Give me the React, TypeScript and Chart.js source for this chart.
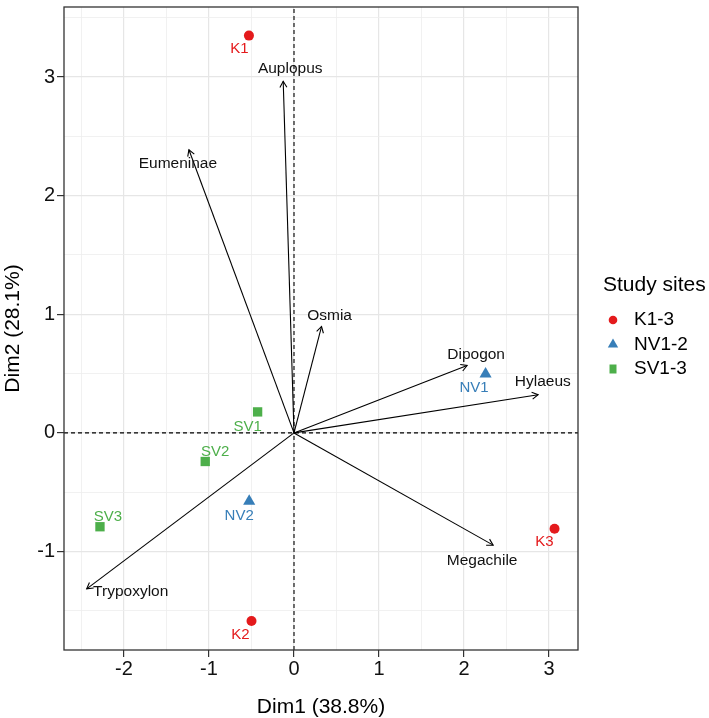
import React, { useEffect, useRef } from "react";
import { Chart, registerables } from "chart.js";

Chart.register(...registerables);

// ---- data ----
const siteNames = ["K1", "K2", "K3", "NV1", "NV2", "SV1", "SV2", "SV3"];
const siteGroup = [0, 0, 0, 1, 1, 2, 2, 2];
const siteDim1 = [-0.53, -0.5, 3.064, 2.253, -0.527, -0.428, -1.044, -2.282];
const siteDim2 = [3.349, -1.586, -0.808, 0.497, -0.577, 0.177, -0.241, -0.791];
const groupLabels = ["K1-3", "NV1-2", "SV1-3"];

const varNames = ["Auplopus", "Eumeninae", "Osmia", "Dipogon", "Hylaeus", "Megachile", "Trypoxylon"];
const varDim1 = [-0.127, -1.236, 0.324, 2.036, 2.871, 2.342, -2.438];
const varDim2 = [2.964, 2.387, 0.897, 0.568, 0.322, -0.946, -1.315];

const xGridValues = [-2.5, -2, -1.5, -1, -0.5, 0, 0.5, 1, 1.5, 2, 2.5, 3];
const yGridValues = [-1.5, -1, -0.5, 0, 0.5, 1, 1.5, 2, 2.5, 3, 3.5];
const xRange = [-2.705, 3.34];
const yRange = [-1.83, 3.59];

const xTitle = "Dim1 (38.8%)";
const yTitle = "Dim2 (28.1%)";
const legendTitle = "Study sites";

// ---- styles ----
const FONT = "'Liberation Sans', Arial, sans-serif";
const groupColors = ["#E41A1C", "#377EB8", "#4DAF4A"];
const groupShapes = ["circle", "triangle", "rect"];
const groupRadius = [5, 7, 6.6];
// label offsets in pixels (ggrepel placement)
const siteLabelOffsets = [
  [-9.5, 13], [-11, 14.3], [-10, 13], [-11.5, 13.5], [-10, 14.5], [-10, 15], [10, -10], [8, -10],
];
const varLabelOffsets = [
  [7, -13], [-11, 14], [8, -11], [9, -11], [4.7, -12.7], [-11, 16], [44, 3],
];

const isMajor = (v: number) => Math.abs(v - Math.round(v)) < 1e-9;

export default function App() {
  const ref = useRef<HTMLCanvasElement | null>(null);

  useEffect(() => {
    const canvas = ref.current;
    if (!canvas) return;

    const datasets: any[] = [];
    groupLabels.forEach((label, g) => {
      const data = siteNames
        .map((name, i) => ({ x: siteDim1[i], y: siteDim2[i], name, g: siteGroup[i] }))
        .filter((d) => d.g === g);
      datasets.push({
        label,
        data,
        pointStyle: groupShapes[g],
        pointRadius: groupRadius[g],
        backgroundColor: groupColors[g],
        borderColor: groupColors[g],
        borderWidth: 0,
        showLine: false,
      });
    });
    // dashed reference lines
    datasets.push({
      label: "_h",
      data: [{ x: xRange[0], y: 0 }, { x: xRange[1], y: 0 }],
      showLine: true,
      pointRadius: 0,
      borderColor: "#000",
      borderWidth: 1.1,
      borderDash: [4, 3],
    });
    datasets.push({
      label: "_v",
      data: [{ x: 0, y: yRange[0] }, { x: 0, y: yRange[1] }],
      showLine: true,
      pointRadius: 0,
      borderColor: "#000",
      borderWidth: 1.1,
      borderDash: [4, 3],
    });
    // variable arrows
    varNames.forEach((n, i) => {
      datasets.push({
        label: "_arrow_" + n,
        data: [{ x: 0, y: 0 }, { x: varDim1[i], y: varDim2[i] }],
        showLine: true,
        pointRadius: 0,
        borderColor: "#000",
        borderWidth: 1.1,
      });
    });

    const overlay = {
      id: "overlay",
      afterDatasetsDraw(chart: any) {
        const ctx = chart.ctx as CanvasRenderingContext2D;
        const xs = chart.scales.x;
        const ys = chart.scales.y;
        const ox = xs.getPixelForValue(0);
        const oy = ys.getPixelForValue(0);
        ctx.save();
        // arrowheads
        ctx.strokeStyle = "#000";
        ctx.lineWidth = 1.1;
        varNames.forEach((_, i) => {
          const tx = xs.getPixelForValue(varDim1[i]);
          const ty = ys.getPixelForValue(varDim2[i]);
          const ang = Math.atan2(ty - oy, tx - ox);
          const L = 7;
          const a = Math.PI / 6;
          ctx.beginPath();
          ctx.moveTo(tx - L * Math.cos(ang - a), ty - L * Math.sin(ang - a));
          ctx.lineTo(tx, ty);
          ctx.lineTo(tx - L * Math.cos(ang + a), ty - L * Math.sin(ang + a));
          ctx.stroke();
        });
        ctx.textAlign = "center";
        ctx.textBaseline = "middle";
        // variable labels
        ctx.font = `15.5px ${FONT}`;
        ctx.fillStyle = "#111";
        varNames.forEach((n, i) => {
          const tx = xs.getPixelForValue(varDim1[i]);
          const ty = ys.getPixelForValue(varDim2[i]);
          ctx.fillText(n, tx + varLabelOffsets[i][0], ty + varLabelOffsets[i][1]);
        });
        // site labels
        ctx.font = `15px ${FONT}`;
        siteNames.forEach((n, i) => {
          const px = xs.getPixelForValue(siteDim1[i]);
          const py = ys.getPixelForValue(siteDim2[i]);
          ctx.fillStyle = groupColors[siteGroup[i]];
          ctx.fillText(n, px + siteLabelOffsets[i][0], py + siteLabelOffsets[i][1]);
        });
        // panel border
        const ca = chart.chartArea;
        ctx.strokeStyle = "#333";
        ctx.lineWidth = 1.3;
        ctx.strokeRect(ca.left, ca.top, ca.right - ca.left, ca.bottom - ca.top);

        // legend
        const lx = ca.right + 25;
        ctx.textAlign = "left";
        ctx.fillStyle = "#000";
        ctx.font = `21px ${FONT}`;
        ctx.fillText(legendTitle, lx, 285);
        ctx.font = `19px ${FONT}`;
        groupLabels.forEach((lab, g) => {
          const cy = 320 + g * 24.5;
          const cx = lx + 10;
          ctx.fillStyle = groupColors[g];
          ctx.beginPath();
          if (groupShapes[g] === "circle") {
            ctx.arc(cx, cy, 4.3, 0, Math.PI * 2);
          } else if (groupShapes[g] === "triangle") {
            const r = 6;
            ctx.moveTo(cx, cy - r);
            ctx.lineTo(cx + r * Math.sin((2 * Math.PI) / 3), cy - r * Math.cos((2 * Math.PI) / 3));
            ctx.lineTo(cx + r * Math.sin((4 * Math.PI) / 3), cy - r * Math.cos((4 * Math.PI) / 3));
            ctx.closePath();
          } else {
            ctx.rect(cx - 3.5, cy - 4.5, 7, 9);
          }
          ctx.fill();
          ctx.fillStyle = "#000";
          ctx.fillText(lab, lx + 31, cy);
        });
        ctx.restore();
      },
    };

    const gridColor = (c: any) => (isMajor(c.tick.value) ? "#E6E6E6" : "#EEEEEE");
    const gridWidth = (c: any) => (isMajor(c.tick.value) ? 1.2 : 0.8);
    const tickColor = (c: any) => (isMajor(c.tick.value) ? "#333" : "rgba(0,0,0,0)");
    const tickCb = (v: any) => (isMajor(Number(v)) ? String(Math.round(Number(v))) : "");

    const chart = new Chart(canvas, {
      type: "scatter",
      data: { datasets },
      options: {
        animation: false,
        responsive: false,
        events: [],
        layout: { padding: { top: 2, right: 131, left: 0, bottom: 0 } },
        plugins: { legend: { display: false }, tooltip: { enabled: false } },
        scales: {
          x: {
            type: "linear",
            min: xRange[0],
            max: xRange[1],
            afterBuildTicks: (s: any) => {
              s.ticks = xGridValues.map((v) => ({ value: v }));
            },
            afterFit: (s: any) => {
              s.height = 68;
            },
            ticks: {
              callback: tickCb,
              autoSkip: false,
              maxRotation: 0,
              padding: 2,
              color: "#111",
              font: { family: FONT, size: 20, lineHeight: 1 },
            },
            grid: {
              color: gridColor,
              lineWidth: gridWidth,
              tickColor,
              tickWidth: 1.2,
              tickLength: 7,
            },
            border: { display: false },
            title: {
              display: true,
              text: xTitle,
              color: "#000",
              font: { family: FONT, size: 21, lineHeight: 1 },
              padding: { top: 0, bottom: 0 },
            },
          },
          y: {
            type: "linear",
            min: yRange[0],
            max: yRange[1],
            afterBuildTicks: (s: any) => {
              s.ticks = yGridValues.map((v) => ({ value: v }));
            },
            afterFit: (s: any) => {
              s.width = 64;
            },
            ticks: {
              callback: tickCb,
              autoSkip: false,
              padding: 2,
              color: "#111",
              font: { family: FONT, size: 20, lineHeight: 0.01 },
            },
            grid: {
              color: gridColor,
              lineWidth: gridWidth,
              tickColor,
              tickWidth: 1.2,
              tickLength: 7,
            },
            border: { display: false },
            title: {
              display: true,
              text: yTitle,
              color: "#000",
              font: { family: FONT, size: 21, lineHeight: 1 },
              padding: { top: 2.5, bottom: 2.5 },
            },
          },
        },
      },
      plugins: [overlay],
    } as any);

    return () => chart.destroy();
  }, []);

  return (
    <div style={{ position: "fixed", left: 0, top: 0, width: 709, height: 718, background: "#fff" }}>
      <canvas ref={ref} width={709} height={718} style={{ display: "block", width: 709, height: 718 }} />
    </div>
  );
}
